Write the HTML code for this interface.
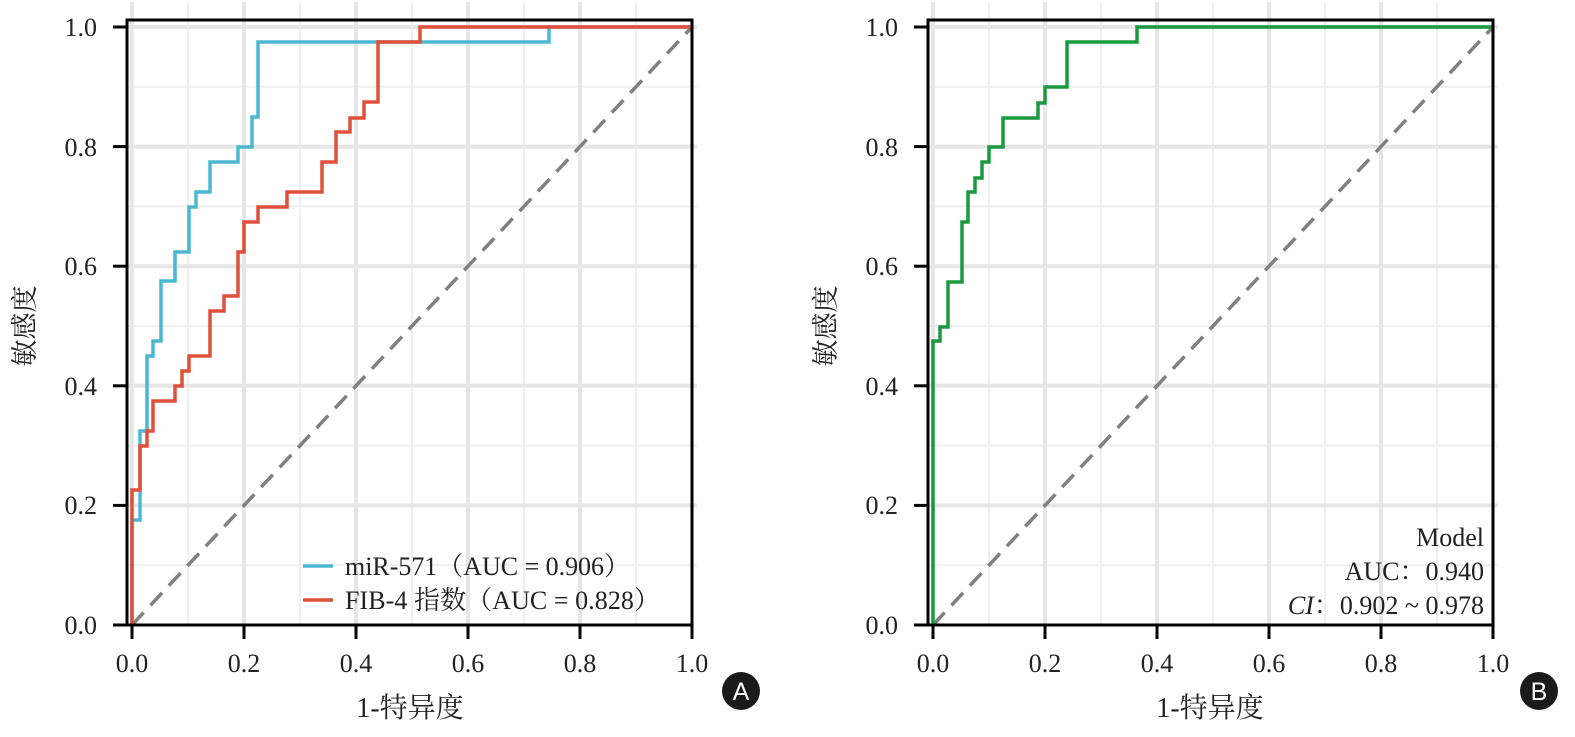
<!DOCTYPE html>
<html><head><meta charset="utf-8"><style>
html,body{margin:0;padding:0;background:#fff;}
svg{display:block;}
text{font-family:"Liberation Serif","Noto Serif CJK SC",serif;fill:#222;}
</style></head><body>
<svg width="1575" height="737" viewBox="0 0 1575 737" xmlns="http://www.w3.org/2000/svg">
<defs>
<g id="grid">
  <g stroke="#efefef" stroke-width="2">
    <line x1="56" y1="2" x2="56" y2="625"/>
    <line x1="168" y1="2" x2="168" y2="625"/>
    <line x1="280" y1="2" x2="280" y2="625"/>
    <line x1="392" y1="2" x2="392" y2="625"/>
    <line x1="504" y1="2" x2="504" y2="625"/>
    <line x1="-5" y1="565.2" x2="565" y2="565.2"/>
    <line x1="-5" y1="445.6" x2="565" y2="445.6"/>
    <line x1="-5" y1="326" x2="565" y2="326"/>
    <line x1="-5" y1="206.4" x2="565" y2="206.4"/>
    <line x1="-5" y1="86.8" x2="565" y2="86.8"/>
  </g>
  <g stroke="#e6e6e6" stroke-width="4">
    <line x1="0" y1="2" x2="0" y2="625"/>
    <line x1="112" y1="2" x2="112" y2="625"/>
    <line x1="224" y1="2" x2="224" y2="625"/>
    <line x1="336" y1="2" x2="336" y2="625"/>
    <line x1="448" y1="2" x2="448" y2="625"/>
    <line x1="-5" y1="505.4" x2="565" y2="505.4"/>
    <line x1="-5" y1="385.8" x2="565" y2="385.8"/>
    <line x1="-5" y1="266.2" x2="565" y2="266.2"/>
    <line x1="-5" y1="146.6" x2="565" y2="146.6"/>
    <line x1="-5" y1="27" x2="565" y2="27"/>
  </g>
</g>
</defs>

<!-- Panel A -->
<g>
  <g transform="translate(132,0)"><use href="#grid"/></g>
  <line x1="132" y1="625" x2="692" y2="27" stroke="#808080" stroke-width="3.5" stroke-dasharray="17,10"/>
  <polyline fill="none" stroke="#4bb8d3" stroke-width="3.5" points="132,625 132,520 140,520 140,431 147,431 147,356 153,356 153,341 161,341 161,281 175,281 175,252 189,252 189,207 196,207 196,192 210,192 210,162 238,162 238,147 252,147 252,117 258,117 258,42 549,42 549,27 692,27"/>
  <polyline fill="none" stroke="#e0503b" stroke-width="3.5" points="132,625 132,490 140,490 140,446 147,446 147,431 153,431 153,401 175,401 175,386 182,386 182,371 189,371 189,356 210,356 210,311 224,311 224,296 238,296 238,252 244,252 244,222 258,222 258,207 287,207 287,192 322,192 322,162 336,162 336,132 350,132 350,118 364,118 364,102 378,102 378,42 420,42 420,27 692,27"/>
  <rect x="127" y="20" width="565" height="605" fill="none" stroke="#000" stroke-width="3"/>
  <g stroke="#000" stroke-width="3">
    <line x1="113" y1="625" x2="127" y2="625"/><line x1="113" y1="505.4" x2="127" y2="505.4"/>
    <line x1="113" y1="385.8" x2="127" y2="385.8"/><line x1="113" y1="266.2" x2="127" y2="266.2"/>
    <line x1="113" y1="146.6" x2="127" y2="146.6"/><line x1="113" y1="27" x2="127" y2="27"/>
    <line x1="132" y1="625" x2="132" y2="639"/><line x1="244" y1="625" x2="244" y2="639"/>
    <line x1="356" y1="625" x2="356" y2="639"/><line x1="468" y1="625" x2="468" y2="639"/>
    <line x1="580" y1="625" x2="580" y2="639"/><line x1="692" y1="625" x2="692" y2="639"/>
  </g>
  <g font-size="26" text-anchor="end">
    <text x="97" y="634">0.0</text><text x="97" y="514">0.2</text><text x="97" y="395">0.4</text>
    <text x="97" y="275">0.6</text><text x="97" y="156">0.8</text><text x="97" y="36">1.0</text>
  </g>
  <g font-size="26" text-anchor="middle">
    <text x="132" y="672">0.0</text><text x="244" y="672">0.2</text><text x="356" y="672">0.4</text>
    <text x="468" y="672">0.6</text><text x="580" y="672">0.8</text><text x="692" y="672">1.0</text>
    <text x="410" y="717" font-size="28">1-特异度</text>
  </g>
  <text font-size="27" text-anchor="middle" transform="translate(34,326) rotate(-90)">敏感度</text>
  <line x1="303" y1="566" x2="333" y2="566" stroke="#4bb8d3" stroke-width="3.5"/>
  <line x1="303" y1="600" x2="333" y2="600" stroke="#e0503b" stroke-width="3.5"/>
  <text x="345" y="575" font-size="26" textLength="285">miR-571（AUC = 0.906）</text>
  <text x="345" y="609" font-size="26" textLength="315">FIB-4 指数（AUC = 0.828）</text>
  <circle cx="741" cy="691" r="19" fill="#1a1a1a"/>
  <text x="741" y="700" font-size="25" text-anchor="middle" style="fill:#fff;font-family:'Liberation Sans',sans-serif">A</text>
</g>

<!-- Panel B -->
<g>
  <g transform="translate(933,0)"><use href="#grid"/></g>
  <line x1="933" y1="625" x2="1493" y2="27" stroke="#808080" stroke-width="3.5" stroke-dasharray="17,10"/>
  <polyline fill="none" stroke="#1a9a3e" stroke-width="3.5" points="933,625 933,341 940,341 940,327 948,327 948,282 962,282 962,222 968,222 968,192 975,192 975,178 982,178 982,162 989,162 989,147 1003,147 1003,118 1038,118 1038,103 1045,103 1045,87 1067,87 1067,42 1137,42 1137,27 1493,27"/>
  <rect x="928" y="20" width="565" height="605" fill="none" stroke="#000" stroke-width="3"/>
  <g stroke="#000" stroke-width="3">
    <line x1="914" y1="625" x2="928" y2="625"/><line x1="914" y1="505.4" x2="928" y2="505.4"/>
    <line x1="914" y1="385.8" x2="928" y2="385.8"/><line x1="914" y1="266.2" x2="928" y2="266.2"/>
    <line x1="914" y1="146.6" x2="928" y2="146.6"/><line x1="914" y1="27" x2="928" y2="27"/>
    <line x1="933" y1="625" x2="933" y2="639"/><line x1="1045" y1="625" x2="1045" y2="639"/>
    <line x1="1157" y1="625" x2="1157" y2="639"/><line x1="1269" y1="625" x2="1269" y2="639"/>
    <line x1="1381" y1="625" x2="1381" y2="639"/><line x1="1493" y1="625" x2="1493" y2="639"/>
  </g>
  <g font-size="26" text-anchor="end">
    <text x="898" y="634">0.0</text><text x="898" y="514">0.2</text><text x="898" y="395">0.4</text>
    <text x="898" y="275">0.6</text><text x="898" y="156">0.8</text><text x="898" y="36">1.0</text>
  </g>
  <g font-size="26" text-anchor="middle">
    <text x="933" y="672">0.0</text><text x="1045" y="672">0.2</text><text x="1157" y="672">0.4</text>
    <text x="1269" y="672">0.6</text><text x="1381" y="672">0.8</text><text x="1493" y="672">1.0</text>
    <text x="1210" y="717" font-size="28">1-特异度</text>
  </g>
  <text font-size="27" text-anchor="middle" transform="translate(835,326) rotate(-90)">敏感度</text>
  <g font-size="26" text-anchor="end">
    <text x="1484" y="546">Model</text>
    <text x="1484" y="580">AUC：0.940</text>
    <text x="1484" y="614"><tspan font-style="italic">CI</tspan>：0.902 ~ 0.978</text>
  </g>
  <circle cx="1539" cy="691" r="19" fill="#1a1a1a"/>
  <text x="1539" y="700" font-size="25" text-anchor="middle" style="fill:#fff;font-family:'Liberation Sans',sans-serif">B</text>
</g>
</svg>
</body></html>
